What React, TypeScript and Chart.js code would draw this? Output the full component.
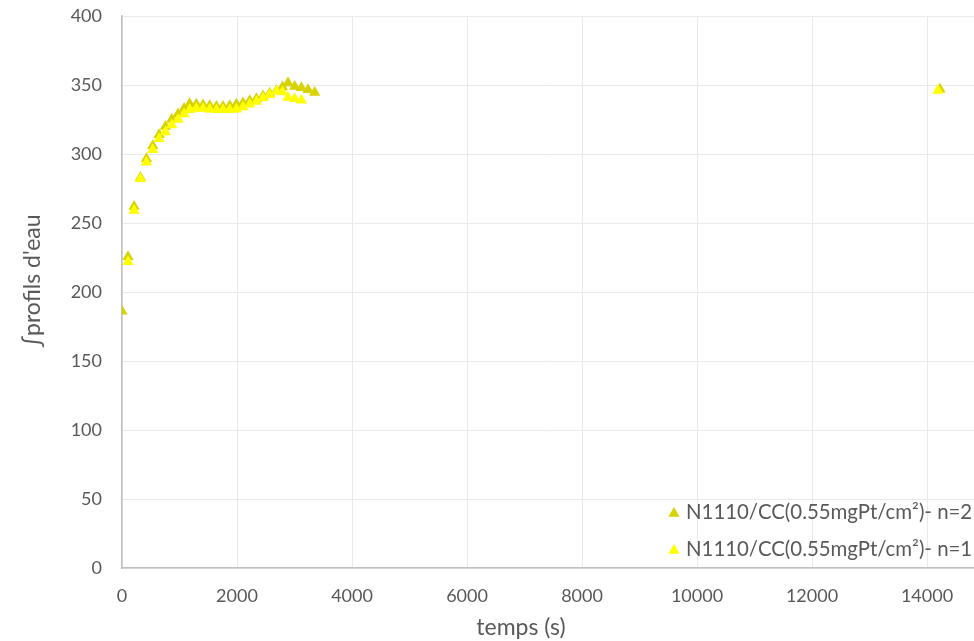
import React, { useEffect, useRef } from 'react';
import { Chart, registerables } from 'chart.js';

Chart.register(...registerables);

// ---- data ----
const TIME_N2 = [0, 105, 210, 320, 425, 535, 645, 755, 865, 975, 1080, 1177, 1293, 1409, 1525, 1642, 1757, 1873, 1990, 2104, 2221, 2337, 2453, 2569, 2685, 2790, 2887, 3003, 3120, 3235, 3351, 14225];
const VAL_N2 = [186, 225.5, 262, 283, 296.5, 306, 314, 320, 325, 329, 333, 336.5, 336, 335.5, 335, 334.5, 334.5, 335, 336, 337, 338.5, 340, 342, 344, 346, 348.5, 351.5, 349, 348, 346.5, 344.5, 347];
const TIME_N1 = [105, 210, 320, 425, 535, 645, 755, 865, 975, 1080, 1177, 1293, 1409, 1525, 1642, 1757, 1873, 1990, 2104, 2221, 2337, 2453, 2569, 2685, 2790, 2887, 3003, 3120, 14190];
const VAL_N1 = [222, 259, 282, 294, 303, 311, 316, 321, 325, 329, 332, 333, 333, 332.5, 332, 332, 332, 332.5, 334, 336, 338, 340.5, 343, 345.5, 345, 341, 340, 339, 346];

const X_TICKS = [0, 2000, 4000, 6000, 8000, 10000, 12000, 14000];
const Y_TICKS = [0, 50, 100, 150, 200, 250, 300, 350, 400];

const LABEL_N2 = 'N1110/CC(0.55mgPt/cm²)- n=2';
const LABEL_N1 = 'N1110/CC(0.55mgPt/cm²)- n=1';
const X_TITLE = 'temps (s)';
const Y_TITLE = "∫profils d'eau";

const COLOR_N2 = '#D7D200';
const COLOR_N1 = '#FFFF00';
const TEXT_COLOR = '#595959';
const FONT = 'Lato';

function toPoints(xs: number[], ys: number[]) {
  return xs.map((x, i) => ({ x, y: ys[i] }));
}

function drawTriangle(ctx: CanvasRenderingContext2D, x: number, y: number, r: number, color: string) {
  ctx.beginPath();
  ctx.moveTo(x, y - r);
  ctx.lineTo(x + r * Math.sin((2 * Math.PI) / 3), y + r / 2);
  ctx.lineTo(x - r * Math.sin((2 * Math.PI) / 3), y + r / 2);
  ctx.closePath();
  ctx.fillStyle = color;
  ctx.fill();
}

const overlayPlugin = {
  id: 'overlay',
  afterDraw(chart: any) {
    const ctx: CanvasRenderingContext2D = chart.ctx;
    ctx.save();
    ctx.fillStyle = TEXT_COLOR;
    // x title
    ctx.font = `23px ${FONT}`;
    ctx.textAlign = 'center';
    ctx.textBaseline = 'middle';
    ctx.fillText(X_TITLE, 521, 628);
    // y title
    ctx.save();
    ctx.translate(33, 281);
    ctx.rotate(-Math.PI / 2);
    ctx.fillText(Y_TITLE, 0, 0);
    ctx.restore();
    // legend
    const items = [
      { label: LABEL_N2, color: COLOR_N2, y: 512 },
      { label: LABEL_N1, color: COLOR_N1, y: 549 },
    ];
    ctx.font = `20.4px ${FONT}`;
    ctx.textAlign = 'left';
    ctx.textBaseline = 'middle';
    for (const it of items) {
      drawTriangle(ctx, 674, it.y + 1.5, 6.5, it.color);
      ctx.fillStyle = TEXT_COLOR;
      ctx.fillText(it.label, 686, it.y);
    }
    ctx.restore();
  },
};

export default function App() {
  const ref = useRef<HTMLCanvasElement | null>(null);
  useEffect(() => {
    document.body.style.margin = '0';
    const canvas = ref.current;
    if (!canvas) return;
    const chart = new Chart(canvas, {
      type: 'scatter',
      data: {
        datasets: [
          {
            label: LABEL_N1,
            data: toPoints(TIME_N1, VAL_N1),
            pointStyle: 'triangle',
            pointRadius: 6.5,
            pointBackgroundColor: COLOR_N1,
            pointBorderColor: COLOR_N1,
            pointBorderWidth: 0,
            showLine: false,
          },
          {
            label: LABEL_N2,
            data: toPoints(TIME_N2, VAL_N2),
            pointStyle: 'triangle',
            pointRadius: 6.5,
            pointBackgroundColor: COLOR_N2,
            pointBorderColor: COLOR_N2,
            pointBorderWidth: 0,
            showLine: false,
          },
        ],
      },
      options: {
        animation: false,
        responsive: false,
        devicePixelRatio: 1,
        layout: { autoPadding: false, padding: { top: 16, right: 0, bottom: 0, left: 0 } },
        plugins: { legend: { display: false }, tooltip: { enabled: false } },
        scales: {
          x: {
            type: 'linear',
            min: 0,
            max: 14817,
            afterBuildTicks: (s: any) => {
              s.ticks = X_TICKS.map((v) => ({ value: v }));
            },
            afterFit: (s: any) => {
              s.height = 73;
              s.paddingLeft = 0;
              s.paddingRight = 0;
            },
            grid: { color: '#E9E9E9', lineWidth: 1, drawTicks: false },
            border: { color: '#BFBFBF', width: 1.5 },
            ticks: {
              color: TEXT_COLOR,
              font: { family: FONT, size: 18 },
              padding: 17,
              maxRotation: 0,
              autoSkip: false,
              callback: (v: any) => String(v),
            },
          },
          y: {
            type: 'linear',
            min: 0,
            max: 400,
            afterBuildTicks: (s: any) => {
              s.ticks = Y_TICKS.map((v) => ({ value: v }));
            },
            afterFit: (s: any) => {
              s.width = 122;
              s.paddingTop = 0;
              s.paddingBottom = 0;
            },
            grid: { color: '#E9E9E9', lineWidth: 1, drawTicks: false },
            border: { color: '#BFBFBF', width: 1.5 },
            ticks: {
              color: TEXT_COLOR,
              font: { family: FONT, size: 18 },
              padding: 20,
              callback: (v: any) => String(v),
            },
          },
        },
      },
      plugins: [overlayPlugin],
    });
    return () => chart.destroy();
  }, []);
  return (
    <div style={{ width: 974, height: 641 }}>
      <canvas ref={ref} width={974} height={641} />
    </div>
  );
}
